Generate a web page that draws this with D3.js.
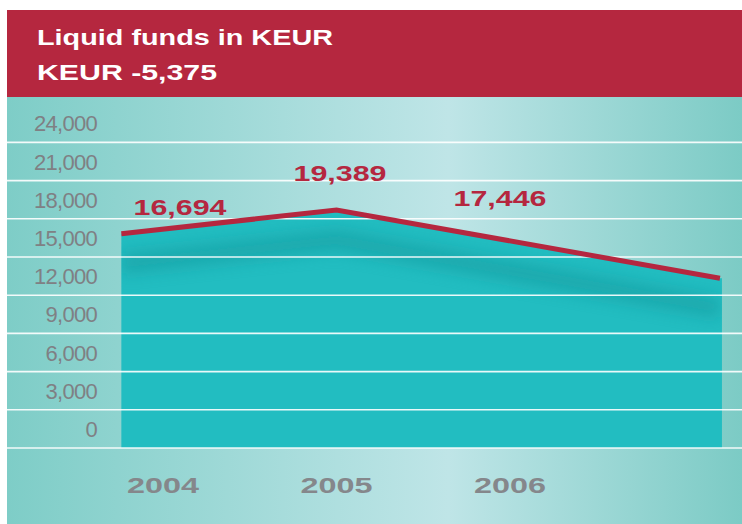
<!DOCTYPE html>
<html>
<head>
<meta charset="utf-8">
<script src="https://cdn.jsdelivr.net/npm/d3@7"></script>
<style>
    html, body { margin: 0; padding: 0; background: #ffffff; }
    svg { display: block; }
</style>
</head>
<body>
<svg id="chart" width="742" height="524"></svg>
<script>
// Chart texts
const titleLines = ['Liquid funds in KEUR', 'KEUR -5,375'];

// Labelled years and their values
const years = [2004, 2005, 2006];
const labelValues = [16694, 19389, 17446];

// Line vertices (year position, KEUR)
const lineYears = [2003.76, 2005, 2007.21];
const lineValues = [16830, 18690, 13330];

// Y axis ticks
const yTicks = [0, 3000, 6000, 9000, 12000, 15000, 18000, 21000, 24000];


/**
 * Area chart with a header band
 *
 * @param element svg element
 * @constructor
 */
function LiquidFundsChart(element) {
    this.element = element;
    this.svg = null;

    this.colors = {
        red: '#b5273f',
        teal: '#22bdc1',
        tealDark: '#16989c',
        gray: '#7f8084'
    };

    this.init = function () {
        let me = this;
        me.svg = d3.select(me.element);
        me.element.innerHTML = '';
        me.setup();
        me.draw();
    };

    this.setup = function () {
        let me = this;

        // Box of the whole graphic
        me.box = {left: 7, top: 10, right: 742, bottom: 524, header: 97};

        // Value scale, 0 sits on the lowest grid line
        me.y = d3.scaleLinear()
            .domain([0, 24000])
            .range([448, 142.4]);

        // Year scale
        me.x = d3.scaleLinear()
            .domain([2004, 2006])
            .range([163, 510]);

        // Value labels sit a bit off the year labels
        me.xLabel = d3.scaleLinear()
            .domain([2004, 2006])
            .range([180, 500]);

        let defs = me.svg.append('defs');

        let grad = defs.append('linearGradient')
            .attr('id', 'bg')
            .attr('x1', '0%').attr('x2', '100%')
            .attr('y1', '0%').attr('y2', '0%');
        grad.append('stop').attr('offset', '0%').attr('stop-color', '#7ecdc7');
        grad.append('stop').attr('offset', '60%').attr('stop-color', '#bfe5e7');
        grad.append('stop').attr('offset', '100%').attr('stop-color', '#7ccbc5');

        defs.append('filter')
            .attr('id', 'soft')
            .attr('x', '-20%').attr('y', '-50%')
            .attr('width', '140%').attr('height', '200%')
            .append('feGaussianBlur')
            .attr('stdDeviation', 8);
    };

    this.draw = function () {
        let me = this;
        let b = me.box;

        // Background
        me.svg.append('rect')
            .attr('x', b.left).attr('y', b.header)
            .attr('width', b.right - b.left).attr('height', b.bottom - b.header)
            .attr('fill', 'url(#bg)');

        // Header band
        me.svg.append('rect')
            .attr('x', b.left).attr('y', b.top)
            .attr('width', b.right - b.left).attr('height', b.header - b.top)
            .attr('fill', me.colors.red);

        let titleWidths = [296, 180];
        me.svg.selectAll('.title')
            .data(titleLines)
            .enter().append('text')
            .attr('class', 'title')
            .attr('x', 37)
            .attr('y', (d, i) => 44.5 + i * 35.5)
            .attr('textLength', (d, i) => titleWidths[i])
            .attr('lengthAdjust', 'spacingAndGlyphs')
            .attr('fill', '#ffffff')
            .attr('font-family', '"Liberation Sans", Arial, sans-serif')
            .attr('font-weight', 'bold')
            .attr('font-size', 21.5)
            .text(d => d);

        let pts = lineYears.map((yr, i) => [me.x(yr), me.y(lineValues[i])]);

        // Area under the line
        let area = d3.area()
            .x(d => d[0])
            .y0(me.y(0))
            .y1(d => d[1]);

        let areaEnd = pts.concat([[pts[pts.length - 1][0] + 2, pts[pts.length - 1][1]]]);

        me.svg.append('clipPath')
            .attr('id', 'areaClip')
            .append('path')
            .attr('d', area(areaEnd));

        me.svg.append('path')
            .attr('d', area(areaEnd))
            .attr('fill', me.colors.teal);

        // Soft shadow under the line
        let line = d3.line().x(d => d[0]).y(d => d[1]);
        me.svg.append('g')
            .attr('clip-path', 'url(#areaClip)')
            .append('path')
            .attr('d', line(pts.map(p => [p[0], p[1] + 30])))
            .attr('fill', 'none')
            .attr('stroke', me.colors.tealDark)
            .attr('stroke-width', 20)
            .attr('opacity', 0.55)
            .attr('filter', 'url(#soft)');

        // Grid lines
        me.svg.selectAll('.grid')
            .data(yTicks)
            .enter().append('line')
            .attr('class', 'grid')
            .attr('x1', b.left).attr('x2', b.right)
            .attr('y1', d => me.y(d)).attr('y2', d => me.y(d))
            .attr('stroke', '#ffffff')
            .attr('stroke-opacity', 0.9)
            .attr('stroke-width', 1.6);

        // Y labels, centred in the band above each grid line
        me.svg.selectAll('.ylab')
            .data(yTicks)
            .enter().append('text')
            .attr('class', 'ylab')
            .attr('x', 97)
            .attr('y', d => me.y(d) - 19)
            .attr('dy', '0.36em')
            .attr('text-anchor', 'end')
            .attr('fill', me.colors.gray)
            .attr('font-family', '"Liberation Sans", Arial, sans-serif')
            .attr('font-size', 22)
            .attr('letter-spacing', -0.7)
            .text(d => d3.format(',')(d));

        // The line
        me.svg.append('path')
            .attr('d', line(pts))
            .attr('fill', 'none')
            .attr('stroke', me.colors.red)
            .attr('stroke-width', 5);

        // Value labels
        me.svg.selectAll('.vlab')
            .data(labelValues)
            .enter().append('text')
            .attr('class', 'vlab')
            .attr('x', (d, i) => me.xLabel(years[i]) - 46.5)
            .attr('y', d => me.y(d) - 28)
            .attr('dy', '0.36em')
            .attr('textLength', 93)
            .attr('lengthAdjust', 'spacingAndGlyphs')
            .attr('fill', me.colors.red)
            .attr('font-family', '"Liberation Sans", Arial, sans-serif')
            .attr('font-weight', 'bold')
            .attr('font-size', 22)
            .text(d => d3.format(',')(d));

        // Year labels
        me.svg.selectAll('.xlab')
            .data(years)
            .enter().append('text')
            .attr('class', 'xlab')
            .attr('x', d => me.x(d) - 36)
            .attr('y', 493)
            .attr('textLength', 72)
            .attr('lengthAdjust', 'spacingAndGlyphs')
            .attr('fill', '#85878b')
            .attr('font-family', '"Liberation Sans", Arial, sans-serif')
            .attr('font-weight', 'bold')
            .attr('font-size', 21.5)
            .text(d => d);
    };

    this.init();
}

new LiquidFundsChart(document.getElementById('chart'));
</script>
</body>
</html>
